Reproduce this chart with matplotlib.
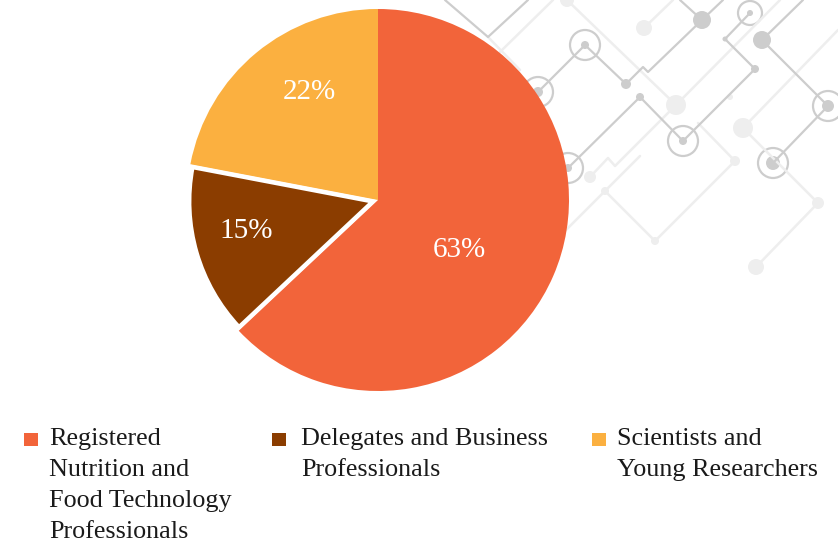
import matplotlib
matplotlib.use("Agg")
import matplotlib.pyplot as plt
from matplotlib.patches import Rectangle, Circle
import numpy as np

categories = ["Registered\nNutrition and\nFood Technology\nProfessionals",
              "Delegates and Business\nProfessionals",
              "Scientists and\nYoung Researchers"]
shares = [63, 15, 22]
colors = ["#F2643A", "#8B3D00", "#FBB040"]

W, H = 838, 545
SERIF = ["Liberation Serif", "DejaVu Serif"]

fig = plt.figure(figsize=(W / 100, H / 100), dpi=100)

# faint circuit pattern behind the pie (decoration only)
bg = fig.add_axes([0, 0, 1, 1], zorder=0)
bg.set_xlim(0, W)
bg.set_ylim(H, 0)
bg.axis("off")

dark = "#cdcdcd"
light = "#eeeeee"
lines_dark = [
    [(680, 0), (702, 20), (723, 0)],
    [(702, 20), (648, 72), (643, 67), (626, 84), (585, 45), (538, 92)],
    [(750, 13), (725, 39), (755, 69), (683, 141), (640, 97), (568, 168)],
    [(803, 0), (762, 40), (828, 106), (773, 163)],
    [(445, 0), (488, 37), (528, 0)],
]
lines_light = [
    [(644, 28), (673, 0)],
    [(567, 0), (676, 105)],
    [(590, 177), (608, 158), (615, 166), (676, 105), (780, 0)],
    [(838, 30), (743, 128), (818, 203), (756, 267)],
    [(698, 123), (735, 161), (655, 241), (605, 191), (560, 236)],
    [(605, 191), (640, 156)],
    [(488, 37), (520, 70)],
    [(500, 52), (553, 0)],
]
for pts in lines_light:
    xs, ys = zip(*pts)
    bg.plot(xs, ys, color=light, lw=1.8, solid_capstyle="round")
for pts in lines_dark:
    xs, ys = zip(*pts)
    bg.plot(xs, ys, color=dark, lw=1.6, solid_capstyle="round")

nodes = [((702, 20), 9, dark), ((626, 84), 5, dark), ((762, 40), 9, dark),
         ((755, 69), 4, dark), ((640, 97), 4, dark), ((725, 39), 2.5, dark),
         ((644, 28), 8, light), ((676, 105), 10, light), ((743, 128), 10, light),
         ((818, 203), 6, light), ((756, 267), 8, light), ((735, 161), 5, light),
         ((655, 241), 4, light), ((605, 191), 4, light), ((590, 177), 6, light),
         ((730, 97), 3, light), ((567, 0), 7, light)]
for (cx, cy), r, c in nodes:
    bg.add_patch(Circle((cx, cy), r, color=c, lw=0))
rings = [((585, 45), 15, 4), ((750, 13), 12, 3), ((683, 141), 15, 4),
         ((828, 106), 15, 6), ((773, 163), 15, 7), ((538, 92), 15, 5),
         ((568, 168), 15, 4)]
for (cx, cy), r, rd in rings:
    bg.add_patch(Circle((cx, cy), r, fill=False, ec=dark, lw=1.6))
    bg.add_patch(Circle((cx, cy), rd, color=dark, lw=0))

# pie
R = 191
ax = fig.add_axes([(378 - R) / W, (H - 200 - R) / H, 2 * R / W, 2 * R / H], zorder=1)
wedges, texts, autotexts = ax.pie(
    shares, colors=colors, startangle=90, counterclock=False,
    explode=[0, 0.029, 0], autopct="%d%%", pctdistance=0.6,
    textprops=dict(color="white", fontsize=21, family=SERIF))
wedges[1].set_radius(0.96)
wedges[1].set_edgecolor("white")
wedges[1].set_linewidth(3)
wedges[1].set_zorder(3)
ax.set_xlim(-1, 1)
ax.set_ylim(-1, 1)
ax.set_aspect("equal")

label_dist = [0.50, 0.68, 0.67]
label_turn = [-8.3, -3.0, -7.4]
for w, t, d, turn in zip(wedges, autotexts, label_dist, label_turn):
    ang = np.deg2rad((w.theta1 + w.theta2) / 2 + turn)
    cx, cy = w.center
    t.set_position((cx + d * np.cos(ang), cy + d * np.sin(ang)))
    t.set_zorder(4)

# legend built by hand so the wrapped labels sit like the reference
marker_x = [24, 272, 592]
text_x = [49, 301, 617]
first_base = 445
line_step = 31
for mx, tx, lab, col in zip(marker_x, text_x, categories, colors):
    fig.patches.append(Rectangle((mx / W, 1 - 446 / H), 13.5 / W, 13.5 / H,
                                 transform=fig.transFigure, color=col, lw=0))
    for i, line in enumerate(lab.split("\n")):
        fig.text(tx / W, 1 - (first_base + i * line_step) / H, line,
                 ha="left", va="baseline", fontsize=18.8,
                 family=SERIF, color="#1a1a1a")

fig.savefig("out.png", dpi=100)
